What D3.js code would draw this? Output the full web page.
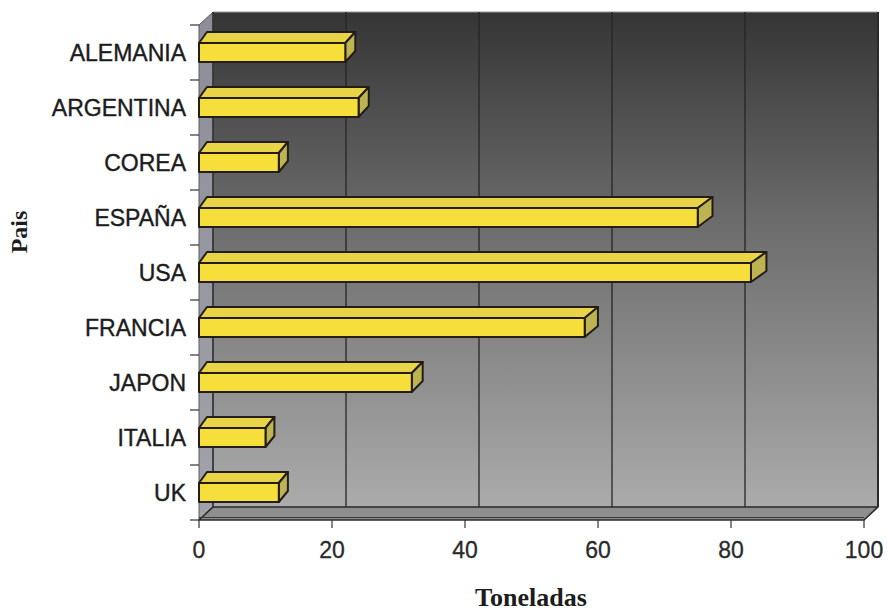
<!DOCTYPE html>
<html>
<head>
<meta charset="utf-8">
<script src="https://cdn.jsdelivr.net/npm/d3@7/dist/d3.min.js"></script>
<style>
  html, body { margin: 0; padding: 0; background: #fff; }
  svg { display: block; }
</style>
</head>
<body>
<svg id="chart" width="888" height="611"></svg>
<script>
// Toneladas por país
const paises = ["ALEMANIA", "ARGENTINA", "COREA", "ESPAÑA", "USA", "FRANCIA", "JAPON", "ITALIA", "UK"];
const toneladas = [22, 24, 12, 75, 83, 58, 32, 10, 12];
const xTicks = [0, 20, 40, 60, 80, 100];

const svg = d3.select("#chart");

// Front plane of the 3D box and the depth offset of the walls
const front = { left: 199, right: 864, top: 25, bottom: 520 };
const depth = { dx: 14, dy: -13 };
const barDepth = { dy: -11 };

const x = d3.scaleLinear().domain([0, 100]).range([front.left, front.right]);
// back edge of the bars (slight perspective)
const xBack = d3.scaleLinear().domain([0, 100]).range([207, 881]);
const xWall = d3.scaleLinear().domain([0, 100]).range([front.left + depth.dx, front.right + depth.dx]);
const y = d3.scaleBand().domain(paises).range([front.top, front.bottom]).padding(0);

const defs = svg.append("defs");
const wallGrad = defs.append("linearGradient")
  .attr("id", "wallGrad").attr("x1", 0).attr("y1", 0).attr("x2", 0).attr("y2", 1);
wallGrad.append("stop").attr("offset", "0%").attr("stop-color", "#353535");
wallGrad.append("stop").attr("offset", "45%").attr("stop-color", "#6f6f70");
wallGrad.append("stop").attr("offset", "100%").attr("stop-color", "#ababab");

const sideGrad = defs.append("linearGradient")
  .attr("id", "sideGrad").attr("x1", 0).attr("y1", 0).attr("x2", 0).attr("y2", 1);
sideGrad.append("stop").attr("offset", "0%").attr("stop-color", "#8d8d98");
sideGrad.append("stop").attr("offset", "100%").attr("stop-color", "#a2a2aa");

const wTop = front.top + depth.dy, wBottom = front.bottom + depth.dy;

// back wall
svg.append("rect")
  .attr("x", xWall(0)).attr("y", wTop)
  .attr("width", xWall(100) - xWall(0)).attr("height", wBottom - wTop)
  .attr("fill", "url(#wallGrad)");
svg.append("line")
  .attr("x1", xWall(0)).attr("x2", xWall(100)).attr("y1", wTop).attr("y2", wTop)
  .attr("stroke", "#9a9a9a").attr("stroke-width", 1.2);
svg.append("line")
  .attr("x1", xWall(100)).attr("x2", xWall(100)).attr("y1", wTop).attr("y2", wBottom)
  .attr("stroke", "#2a2a2a").attr("stroke-width", 2);

// vertical gridlines on the back wall
svg.append("g").selectAll("line")
  .data(xTicks.slice(1, -1))
  .join("line")
  .attr("x1", d => xWall(d)).attr("x2", d => xWall(d))
  .attr("y1", wTop).attr("y2", wBottom)
  .attr("stroke", "#262626").attr("stroke-width", 1.3);

// left side wall
svg.append("polygon")
  .attr("points", [
    [front.left, front.top], [xWall(0), wTop],
    [xWall(0), wBottom], [front.left, front.bottom]
  ].join(" "))
  .attr("fill", "url(#sideGrad)")
  .attr("stroke", "#5a5a62").attr("stroke-width", 1);
svg.append("line")
  .attr("x1", xWall(0)).attr("x2", xWall(0)).attr("y1", wTop).attr("y2", wBottom)
  .attr("stroke", "#2e2e30").attr("stroke-width", 1.5);

// floor
svg.append("polygon")
  .attr("points", [
    [front.left, front.bottom], [front.right, front.bottom],
    [xWall(100), wBottom], [xWall(0), wBottom]
  ].join(" "))
  .attr("fill", "#8e8e8e")
  .attr("stroke", "#2a2a2a").attr("stroke-width", 1.6)
  .attr("stroke-linejoin", "round");
svg.append("line")
  .attr("x1", front.left).attr("x2", front.right)
  .attr("y1", front.bottom - 2.5).attr("y2", front.bottom - 2.5)
  .attr("stroke", "#3a3a3a").attr("stroke-width", 1);

// bars
const faceH = 19;
const bars = svg.append("g").selectAll("g")
  .data(paises.map((p, i) => ({ pais: p, v: toneladas[i] })))
  .join("g");

bars.each(function (d) {
  const g = d3.select(this);
  const yc = y(d.pais) + y.bandwidth() / 2;
  const yt = yc - faceH / 2, yb = yc + faceH / 2;
  const dy = barDepth.dy;
  const common = sel => sel.attr("stroke", "#231d16").attr("stroke-width", 2).attr("stroke-linejoin", "round");
  // top face
  g.append("polygon")
    .attr("points", [[x(0), yt], [x(d.v), yt], [xBack(d.v), yt + dy], [xBack(0), yt + dy]].join(" "))
    .attr("fill", "#e9d447").call(common);
  // end face
  g.append("polygon")
    .attr("points", [[x(d.v), yt], [xBack(d.v), yt + dy], [xBack(d.v), yb + dy], [x(d.v), yb]].join(" "))
    .attr("fill", "#bdb451").call(common);
  // front face
  g.append("rect")
    .attr("x", x(0)).attr("y", yt)
    .attr("width", x(d.v) - x(0)).attr("height", faceH)
    .attr("fill", "#f6df3b").call(common);
});

// category axis
const yTickPos = paises.map(p => y(p)).concat([front.bottom]);
svg.append("g").selectAll("line")
  .data(yTickPos)
  .join("line")
  .attr("x1", front.left - 9).attr("x2", front.left)
  .attr("y1", d => d).attr("y2", d => d)
  .attr("stroke", "#333").attr("stroke-width", 1.2);

svg.append("g").selectAll("text")
  .data(paises)
  .join("text")
  .attr("x", 186)
  .attr("y", d => y(d) + y.bandwidth() / 2)
  .attr("dy", "0.36em")
  .attr("text-anchor", "end")
  .attr("font-family", "'Liberation Sans', Arial, sans-serif")
  .attr("font-size", 23)
  .attr("fill", "#1c1c1c")
  .attr("stroke", "#1c1c1c").attr("stroke-width", 0.4)
  .text(d => d);

// value axis
svg.append("g").selectAll("line")
  .data(xTicks)
  .join("line")
  .attr("x1", d => x(d)).attr("x2", d => x(d))
  .attr("y1", front.bottom).attr("y2", front.bottom + 8)
  .attr("stroke", "#333").attr("stroke-width", 1.2);

svg.append("g").selectAll("text")
  .data(xTicks)
  .join("text")
  .attr("x", d => x(d))
  .attr("y", 558)
  .attr("text-anchor", "middle")
  .attr("font-family", "'Liberation Sans', Arial, sans-serif")
  .attr("font-size", 23)
  .attr("fill", "#2a2a2a")
  .attr("stroke", "#2a2a2a").attr("stroke-width", 0.3)
  .text(d => d);

// axis titles
svg.append("text")
  .attr("x", 531).attr("y", 606)
  .attr("text-anchor", "middle")
  .attr("font-family", "'Liberation Serif', 'Times New Roman', serif")
  .attr("font-weight", "bold")
  .attr("font-size", 26)
  .attr("fill", "#1c1c1c")
  .text("Toneladas");

svg.append("text")
  .attr("transform", "translate(27,232) rotate(-90)")
  .attr("text-anchor", "middle")
  .attr("font-family", "'Liberation Serif', 'Times New Roman', serif")
  .attr("font-weight", "bold")
  .attr("font-size", 24)
  .attr("fill", "#1c1c1c")
  .text("Pais");
</script>
</body>
</html>
